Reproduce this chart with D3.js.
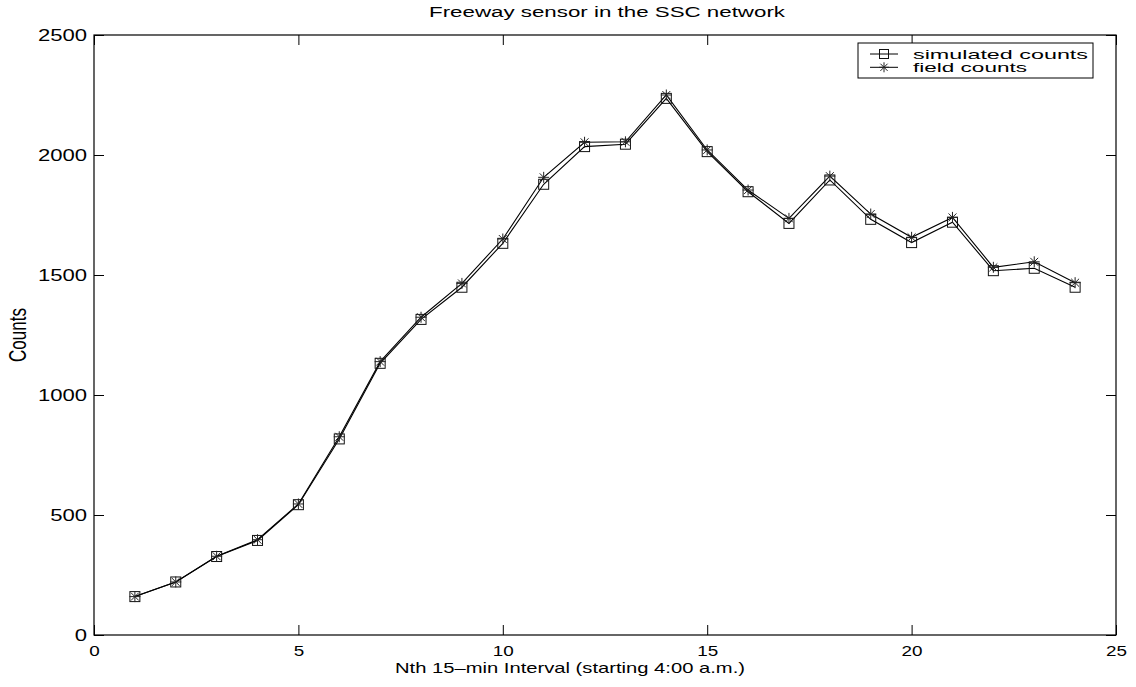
<!DOCTYPE html>
<html>
<head>
<meta charset="utf-8">
<script src="https://cdn.jsdelivr.net/npm/d3@7"></script>
<style>
  body { margin: 0; background: #fff; }
  svg { display: block; font-family: "Liberation Sans", Arial, Helvetica, sans-serif; }
</style>
</head>
<body>
<svg id="chart" width="1136" height="687"></svg>
<script>
// interval index (Nth 15-min interval)
const intervals = d3.range(1, 25);
const simulatedCounts = [160, 221, 327, 394, 543, 817, 1132, 1315, 1449, 1632, 1878, 2035,
                         2045, 2236, 2014, 1847, 1715, 1896, 1732, 1635, 1720, 1518, 1528, 1449];
const fieldCounts =     [160, 221, 328, 397, 546, 826, 1139, 1324, 1465, 1650, 1907, 2053,
                         2055, 2250, 2021, 1854, 1736, 1912, 1754, 1657, 1740, 1532, 1555, 1468];
const xTicks = [0, 5, 10, 15, 20, 25];
const yTicks = [0, 500, 1000, 1500, 2000, 2500];
const seriesNames = ["simulated counts", "field counts"];

const svg = d3.select("#chart");
const margin = { top: 35, right: 20, bottom: 52, left: 94 };
const width = +svg.attr("width") - margin.left - margin.right;
const height = +svg.attr("height") - margin.top - margin.bottom;

const x = d3.scaleLinear().domain([0, 25]).range([0, width]);
const y = d3.scaleLinear().domain([0, 2500]).range([height, 0]);

const g = svg.append("g")
    .attr("transform", `translate(${margin.left},${margin.top})`);

// the original figure is wider than tall, so text is stretched sideways
function stretch(sel, k) {
    sel.each(function() {
        const w = this.getComputedTextLength();
        d3.select(this).attr("textLength", w * k).attr("lengthAdjust", "spacingAndGlyphs");
    });
}

// axes, ticks pointing inward like the original
const tickLen = 10;
function styleAxis(sel, fs) {
    sel.select(".domain").remove();
    sel.attr("font-family", null).attr("font-size", null);
    sel.selectAll(".tick line").attr("stroke", "#000").attr("stroke-width", 1);
    sel.selectAll(".tick text").attr("fill", "#000").attr("font-size", fs);
}

const xAxis = g.append("g")
    .attr("transform", `translate(0,${height})`)
    .call(d3.axisBottom(x).tickValues(xTicks).tickFormat(d3.format("d"))
        .tickSizeInner(-tickLen).tickSizeOuter(0).tickPadding(11))
    .call(styleAxis, 14.5);
xAxis.selectAll(".tick text").call(stretch, 1.3);

g.append("g")
    .call(d3.axisTop(x).tickValues(xTicks).tickSizeInner(-tickLen).tickSizeOuter(0).tickFormat(""))
    .call(styleAxis, 14);

const yAxis = g.append("g")
    .call(d3.axisLeft(y).tickValues(yTicks).tickFormat(d3.format("d"))
        .tickSizeInner(-tickLen).tickSizeOuter(0).tickPadding(7))
    .call(styleAxis, 16);
yAxis.selectAll(".tick text").call(stretch, 1.38);

g.append("g")
    .attr("transform", `translate(${width},0)`)
    .call(d3.axisRight(y).tickValues(yTicks).tickSizeInner(-tickLen).tickSizeOuter(0).tickFormat(""))
    .call(styleAxis, 14);

g.append("rect")
    .attr("width", width).attr("height", height)
    .attr("fill", "none").attr("stroke", "#000").attr("stroke-width", 1.2);

// lines
const line = d3.line().x((d, i) => x(intervals[i])).y(d => y(d));

g.append("path").datum(simulatedCounts)
    .attr("fill", "none").attr("stroke", "#000").attr("stroke-width", 1.1)
    .attr("d", line);
g.append("path").datum(fieldCounts)
    .attr("fill", "none").attr("stroke", "#000").attr("stroke-width", 1.1)
    .attr("d", line);

// markers
function squareMarker(sel, sq) {
    sel.append("rect")
        .attr("x", -sq).attr("y", -sq).attr("width", 2 * sq).attr("height", 2 * sq)
        .attr("fill", "none").attr("stroke", "#111").attr("stroke-width", 1);
}
function starMarker(sel, st) {
    const d = st * 0.72;
    sel.append("path")
        .attr("d", `M${-st},0H${st}M0,${-st}V${st}M${-d},${-d}L${d},${d}M${-d},${d}L${d},${-d}`)
        .attr("fill", "none").attr("stroke", "#222").attr("stroke-width", 1);
}

g.selectAll(".sim").data(simulatedCounts).enter()
    .append("g").attr("class", "sim")
    .attr("transform", (d, i) => `translate(${x(intervals[i])},${y(d)})`)
    .call(squareMarker, 5);
g.selectAll(".field").data(fieldCounts).enter()
    .append("g").attr("class", "field")
    .attr("transform", (d, i) => `translate(${x(intervals[i])},${y(d)})`)
    .call(starMarker, 5.5);

// title and labels
svg.append("text")
    .attr("x", 607).attr("y", 17)
    .attr("text-anchor", "middle").attr("font-size", 15.5)
    .attr("textLength", 356).attr("lengthAdjust", "spacingAndGlyphs")
    .text("Freeway sensor in the SSC network");

svg.append("text")
    .attr("x", 570).attr("y", 673)
    .attr("text-anchor", "middle").attr("font-size", 15)
    .attr("textLength", 350).attr("lengthAdjust", "spacingAndGlyphs")
    .text("Nth 15\u2013min Interval (starting 4:00 a.m.)");

svg.append("text")
    .attr("transform", `translate(26,335) scale(1.38,1) rotate(-90)`)
    .attr("text-anchor", "middle").attr("font-size", 17)
    .text("Counts");

// legend
const legend = svg.append("g").attr("transform", "translate(858,43)");
legend.append("rect")
    .attr("width", 235).attr("height", 35)
    .attr("fill", "#fff").attr("stroke", "#000").attr("stroke-width", 1);

const items = legend.selectAll(".item").data(seriesNames).enter()
    .append("g").attr("class", "item")
    .attr("transform", (d, i) => `translate(0,${11 + i * 13.3})`);
items.append("line")
    .attr("x1", 12).attr("x2", 40)
    .attr("stroke", "#000").attr("stroke-width", 1);
items.append("g").attr("transform", "translate(26,0)")
    .each(function(d, i) {
        if (i === 0) d3.select(this).call(squareMarker, 4.5);
        else d3.select(this).call(starMarker, 5);
    });
items.append("text")
    .attr("x", 55).attr("y", 5).attr("font-size", 13.5)
    .attr("textLength", (d, i) => i === 0 ? 175 : 114).attr("lengthAdjust", "spacingAndGlyphs")
    .text(d => d);
</script>
</body>
</html>
